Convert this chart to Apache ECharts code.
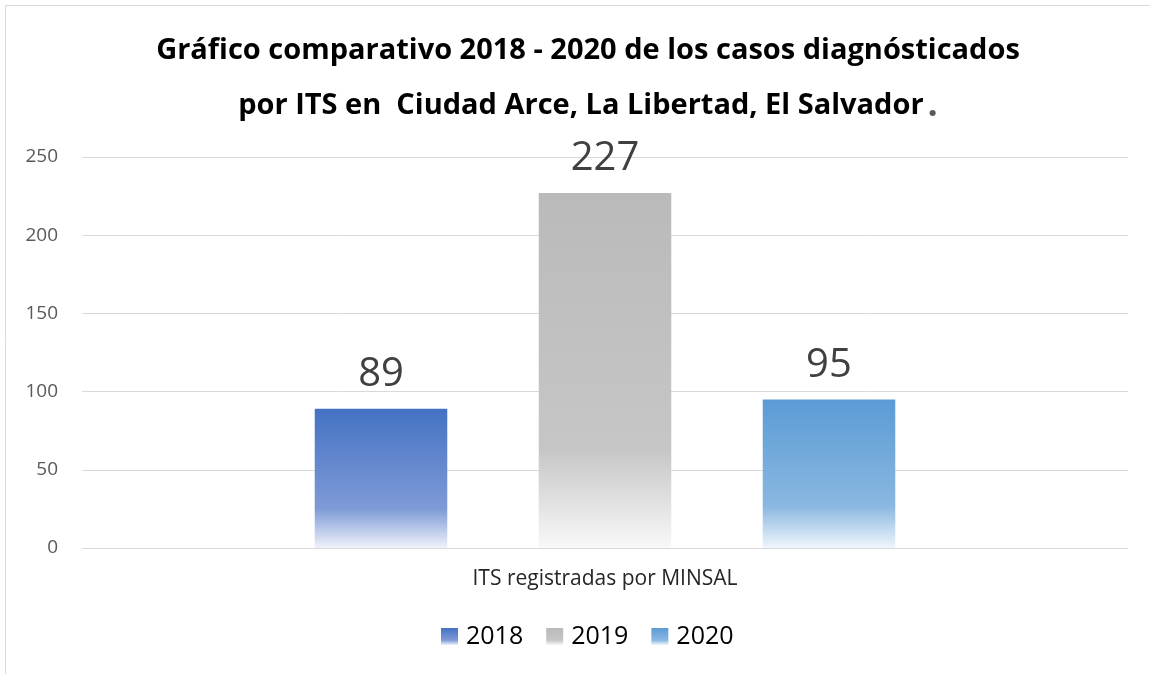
<!DOCTYPE html>
<html>
<head>
<meta charset="utf-8">
<script src="https://cdn.jsdelivr.net/npm/echarts@6/dist/echarts.min.js"></script>
<style>html,body{margin:0;padding:0;background:#fff}#c{width:1150px;height:674px}</style>
</head>
<body>
<div id="c"></div>
<script>
const categories = ['ITS registradas por MINSAL'];
const seriesNames = ['2018', '2019', '2020'];
const values2018 = [89];
const values2019 = [227];
const values2020 = [95];
const yTicks = [0, 50, 100, 150, 200, 250];

function grad(top, mid, bottom) {
  return new echarts.graphic.LinearGradient(0, 0, 0, 1, [
    { offset: 0, color: top },
    { offset: 0.72, color: mid },
    { offset: 1, color: bottom }
  ]);
}
const fills = [
  grad('#4472C4', '#7f9bd6', '#eef2fa'),
  grad('#bababa', '#c6c6c6', '#f8f8f8'),
  grad('#5B9BD5', '#8ab8e1', '#f0f6fc')
];
const dataSets = [values2018, values2019, values2020];

const chart = echarts.init(document.getElementById('c'));
chart.setOption({
  animation: false,
  backgroundColor: '#fff',
  graphic: [{
    type: 'rect', shape: { x: 5.5, y: 5.5, width: 1200, height: 700 },
    style: { fill: 'none', stroke: '#d9d9d9', lineWidth: 1 }, silent: true
  }],
  title: {
    text: 'Gráfico comparativo 2018 - 2020 de los casos diagnósticados\npor ITS en  Ciudad Arce, La Libertad, El Salvador{d|.}',
    left: 583, textAlign: 'center', top: 18,
    textStyle: {
      fontFamily: 'Open Sans', fontWeight: 'bold', fontSize: 29, color: '#000',
      lineHeight: 55,
      rich: { d: { fontFamily: 'Open Sans', fontWeight: 'bold', fontSize: 36, color: '#595959', padding: [0, 0, 0, 4] } }
    }
  },
  grid: { left: 82, right: 22, top: 157, bottom: 126 },
  legend: {
    data: seriesNames, bottom: 20, left: 436, icon: 'rect',
    itemWidth: 17, itemHeight: 17, itemGap: 23,
    textStyle: { fontFamily: 'Open Sans', fontSize: 25, color: '#000', padding: [0, 0, 0, 3] }
  },
  xAxis: {
    type: 'category', data: categories,
    axisLine: { lineStyle: { color: '#d9d9d9' } },
    axisTick: { show: false },
    axisLabel: { fontFamily: 'Open Sans', fontSize: 21, color: '#262626', margin: 21 }
  },
  yAxis: {
    type: 'value', min: yTicks[0], max: yTicks[yTicks.length - 1], interval: 50,
    axisLine: { show: false }, axisTick: { show: false },
    axisLabel: { fontFamily: 'Open Sans', fontSize: 19, color: '#595959', margin: 24 },
    splitLine: { lineStyle: { color: '#d9d9d9' } }
  },
  series: seriesNames.map((n, i) => ({
    name: n, type: 'bar', data: dataSets[i],
    barCategoryGap: '44.5%', barGap: '69%',
    itemStyle: { color: fills[i] },
    label: { show: true, position: 'top', distance: 14, fontFamily: 'Open Sans', fontSize: 40, color: '#404040' }
  }))
});
</script>
</body>
</html>
